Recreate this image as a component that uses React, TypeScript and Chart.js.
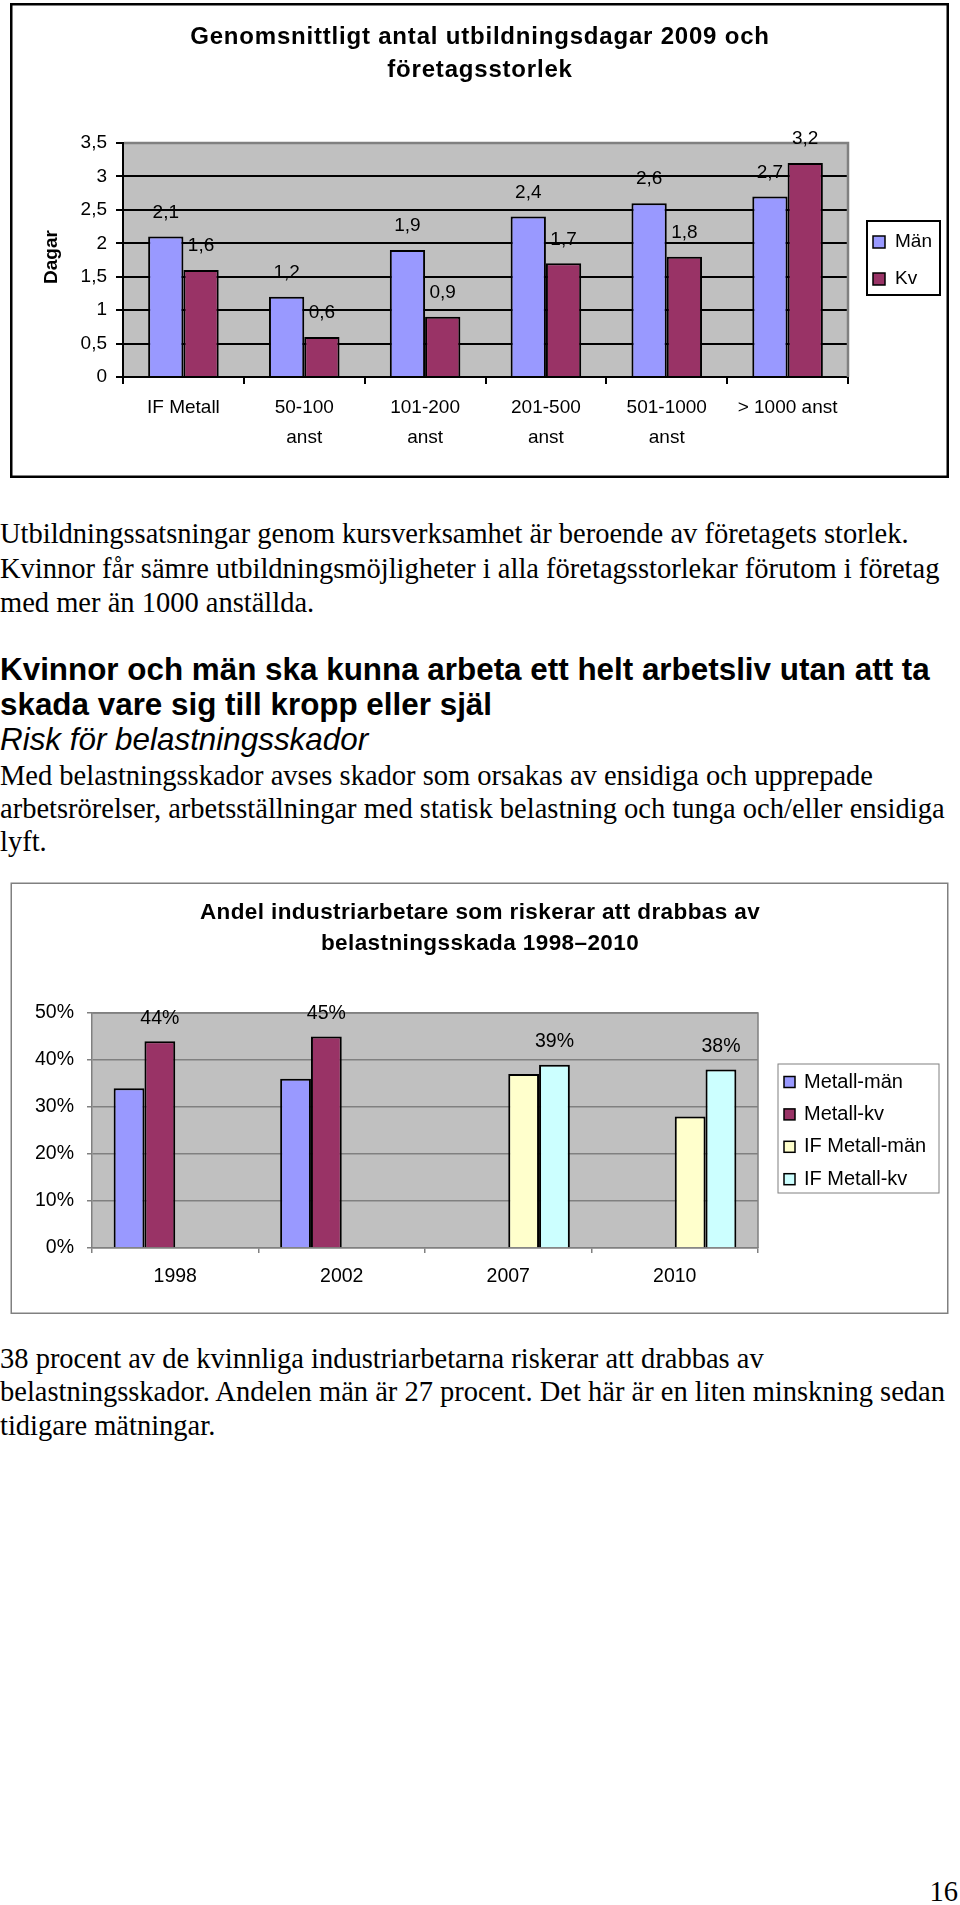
import React, { useEffect, useRef } from 'react';
import { Chart, registerables } from 'chart.js';

Chart.register(...registerables);

const SANS = '"Liberation Sans", Arial, Helvetica, sans-serif';
const SERIF = '"Liberation Serif", "Times New Roman", Times, serif';

// ---------- Chart 1 data ----------
const sizeCategories: (string | string[])[] = [
  'IF Metall',
  ['50-100', 'anst'],
  ['101-200', 'anst'],
  ['201-500', 'anst'],
  ['501-1000', 'anst'],
  '> 1000 anst',
];
const manDays = [2.1, 1.2, 1.9, 2.4, 2.6, 2.7];
const kvDays = [1.6, 0.6, 0.9, 1.7, 1.8, 3.2];
const chart1Series = ['Män', 'Kv'];
const chart1Colors = ['#9999FF', '#993366'];
const chart1Title = ['Genomsnittligt antal utbildningsdagar 2009 och', 'företagsstorlek'];
const chart1YTitle = 'Dagar';
const chart1YMax = 3.5;
const chart1YStep = 0.5;

// ---------- Chart 2 data ----------
const years = ['1998', '2002', '2007', '2010'];
const metallMan = [34, 36, null, null];
const metallKv = [44, 45, null, null];
const ifMetallMan = [null, null, 37, 28];
const ifMetallKv = [null, null, 39, 38];
const chart2Series = ['Metall-män', 'Metall-kv', 'IF Metall-män', 'IF Metall-kv'];
const chart2Colors = ['#9999FF', '#993366', '#FFFFCC', '#CCFFFF'];
const chart2Title = ['Andel industriarbetare som riskerar att drabbas av', 'belastningsskada 1998–2010'];
const chart2Labelled = [1, 3];
const chart2YMax = 50;
const chart2YStep = 10;

const fmtComma = (v: number) => String(v).replace('.', ',');
const fmtPct = (v: number) => `${v}%`;

function drawDataLabels(chart: any, idxs: number[], offset: number, fmt: (v: number) => string, size: number) {
  const ctx = chart.ctx;
  ctx.save();
  ctx.fillStyle = '#000';
  ctx.font = `${size}px ${SANS}`;
  ctx.textAlign = 'center';
  ctx.textBaseline = 'middle';
  idxs.forEach((di) => {
    const meta = chart.getDatasetMeta(di);
    const data = chart.data.datasets[di].data;
    meta.data.forEach((el: any, i: number) => {
      const v = data[i];
      if (v === null || v === undefined) return;
      ctx.fillText(fmt(v), el.x, el.y - offset);
    });
  });
  ctx.restore();
}

function drawLegend(
  ctx: any,
  box: { x: number; y: number; w: number; h: number },
  borderColor: string,
  borderWidth: number,
  items: string[],
  colors: string[],
  firstY: number,
  step: number,
  markX: number,
  markSize: number,
  textX: number,
  fontSize: number
) {
  ctx.save();
  ctx.fillStyle = '#fff';
  ctx.fillRect(box.x, box.y, box.w, box.h);
  ctx.strokeStyle = borderColor;
  ctx.lineWidth = borderWidth;
  ctx.strokeRect(box.x, box.y, box.w, box.h);
  ctx.font = `${fontSize}px ${SANS}`;
  ctx.textAlign = 'left';
  ctx.textBaseline = 'middle';
  items.forEach((label, i) => {
    const cy = firstY + i * step;
    ctx.fillStyle = colors[i];
    ctx.fillRect(markX, cy - markSize / 2, markSize, markSize);
    ctx.strokeStyle = '#000';
    ctx.lineWidth = 1.5;
    ctx.strokeRect(markX, cy - markSize / 2, markSize, markSize);
    ctx.fillStyle = '#000';
    ctx.fillText(label, textX, cy);
  });
  ctx.restore();
}

const chart1Deco = {
  id: 'chart1Deco',
  beforeDraw(chart: any) {
    const { ctx, chartArea: a } = chart;
    ctx.save();
    ctx.fillStyle = '#fff';
    ctx.fillRect(0, 0, chart.width, chart.height);
    ctx.strokeStyle = '#000';
    ctx.lineWidth = 2.5;
    ctx.strokeRect(11.25, 4.25, 936.5, 472.5);
    ctx.fillStyle = '#C0C0C0';
    ctx.fillRect(a.left, a.top, a.right - a.left, a.bottom - a.top);
    ctx.restore();
  },
  afterDatasetsDraw(chart: any) {
    const { ctx, chartArea: a } = chart;
    ctx.save();
    ctx.strokeStyle = '#808080';
    ctx.lineWidth = 2.5;
    ctx.beginPath();
    ctx.moveTo(a.left + 1, a.top);
    ctx.lineTo(a.right, a.top);
    ctx.lineTo(a.right, a.bottom);
    ctx.stroke();
    ctx.restore();
  },
  afterDraw(chart: any) {
    const ctx = chart.ctx;
    ctx.save();
    ctx.fillStyle = '#000';
    ctx.textAlign = 'center';
    ctx.textBaseline = 'middle';
    ctx.font = `bold 24px ${SANS}`;
    try { ctx.letterSpacing = '0.8px'; } catch (e) {}
    ctx.fillText(chart1Title[0], 480, 37);
    ctx.fillText(chart1Title[1], 480, 70);
    try { ctx.letterSpacing = '0px'; } catch (e) {}
    ctx.translate(52, 257);
    ctx.rotate(-Math.PI / 2);
    ctx.font = `bold 19px ${SANS}`;
    ctx.fillText(chart1YTitle, 0, 0);
    ctx.restore();
    drawLegend(ctx, { x: 867, y: 221, w: 73, h: 74 }, '#000', 2, chart1Series, chart1Colors, 242, 37, 873, 12, 895, 19);
    drawDataLabels(chart, [0, 1], 24, fmtComma, 19);
  },
};

const chart2Deco = {
  id: 'chart2Deco',
  beforeDraw(chart: any) {
    const { ctx, chartArea: a } = chart;
    ctx.save();
    ctx.fillStyle = '#fff';
    ctx.fillRect(0, 0, chart.width, chart.height);
    ctx.strokeStyle = '#808080';
    ctx.lineWidth = 1.5;
    ctx.strokeRect(11.25, 13.25, 936.5, 430);
    ctx.fillStyle = '#C0C0C0';
    ctx.fillRect(a.left, a.top, a.right - a.left, a.bottom - a.top);
    ctx.restore();
  },
  afterDatasetsDraw(chart: any) {
    const { ctx, chartArea: a } = chart;
    ctx.save();
    ctx.strokeStyle = '#808080';
    ctx.lineWidth = 1.5;
    ctx.beginPath();
    ctx.moveTo(a.left, a.top);
    ctx.lineTo(a.right, a.top);
    ctx.lineTo(a.right, a.bottom);
    ctx.stroke();
    ctx.restore();
  },
  afterDraw(chart: any) {
    const ctx = chart.ctx;
    ctx.save();
    ctx.fillStyle = '#000';
    ctx.textAlign = 'center';
    ctx.textBaseline = 'middle';
    ctx.font = `bold 22.5px ${SANS}`;
    try { ctx.letterSpacing = '0.4px'; } catch (e) {}
    ctx.fillText(chart2Title[0], 480, 43);
    ctx.fillText(chart2Title[1], 480, 74);
    try { ctx.letterSpacing = '0px'; } catch (e) {}
    ctx.restore();
    drawLegend(ctx, { x: 778, y: 194, w: 161, h: 129 }, '#808080', 1, chart2Series, chart2Colors, 212, 32.4, 784, 11, 804, 20);
    drawDataLabels(chart, chart2Labelled, 23, fmtPct, 19.5);
  },
};

export default function App() {
  const c1 = useRef<HTMLCanvasElement | null>(null);
  const c2 = useRef<HTMLCanvasElement | null>(null);

  useEffect(() => {
    Chart.defaults.font.family = SANS;
    const chartA = new Chart(c1.current as HTMLCanvasElement, {
      type: 'bar',
      data: {
        labels: sizeCategories as any,
        datasets: [
          { label: chart1Series[0], data: manDays, backgroundColor: chart1Colors[0], borderColor: '#000', borderWidth: 2 },
          { label: chart1Series[1], data: kvDays, backgroundColor: chart1Colors[1], borderColor: '#000', borderWidth: 2 },
        ],
      },
      options: {
        animation: false,
        responsive: false,
        events: [],
        datasets: { bar: { categoryPercentage: 0.584, barPercentage: 1 } },
        layout: { padding: { left: 0, right: 112, top: 143, bottom: 23 } },
        plugins: { legend: { display: false }, title: { display: false }, tooltip: { enabled: false } },
        scales: {
          x: {
            offset: true,
            grid: { offset: true, drawOnChartArea: false, drawTicks: true, tickLength: 7, color: '#000', lineWidth: 2 },
            border: { color: '#000', width: 2 },
            ticks: { color: '#000', font: { family: SANS, size: 19, lineHeight: 30 / 19 }, padding: 9, maxRotation: 0, autoSkip: false },
            afterFit: (s: any) => { s.height = 80; },
          },
          y: {
            min: 0,
            max: chart1YMax,
            ticks: { stepSize: chart1YStep, color: '#000', font: { family: SANS, size: 19 }, padding: 9, callback: (v: any) => fmtComma(v) },
            grid: { color: '#000', lineWidth: 2, tickLength: 7 },
            border: { color: '#000', width: 2 },
            afterFit: (s: any) => { s.width = 123; },
          },
        },
      } as any,
      plugins: [chart1Deco],
    });

    const chartB = new Chart(c2.current as HTMLCanvasElement, {
      type: 'bar',
      data: {
        labels: years,
        datasets: [
          { label: chart2Series[0], data: metallMan, backgroundColor: chart2Colors[0], borderColor: '#000', borderWidth: 2 },
          { label: chart2Series[1], data: metallKv, backgroundColor: chart2Colors[1], borderColor: '#000', borderWidth: 2 },
          { label: chart2Series[2], data: ifMetallMan, backgroundColor: chart2Colors[2], borderColor: '#000', borderWidth: 2 },
          { label: chart2Series[3], data: ifMetallKv, backgroundColor: chart2Colors[3], borderColor: '#000', borderWidth: 2 },
        ] as any,
      },
      options: {
        animation: false,
        responsive: false,
        events: [],
        datasets: { bar: { categoryPercentage: 0.74, barPercentage: 1 } },
        layout: { padding: { left: 0, right: 202, top: 143, bottom: 22 } },
        plugins: { legend: { display: false }, title: { display: false }, tooltip: { enabled: false } },
        scales: {
          x: {
            offset: true,
            grid: { offset: true, drawOnChartArea: false, drawTicks: true, tickLength: 5, color: '#808080', lineWidth: 1.5 },
            border: { color: '#808080', width: 1.5 },
            ticks: { color: '#000', font: { family: SANS, size: 19.5 }, padding: 12, maxRotation: 0, autoSkip: false },
            afterFit: (s: any) => { s.height = 50; },
          },
          y: {
            min: 0,
            max: chart2YMax,
            ticks: { stepSize: chart2YStep, color: '#000', font: { family: SANS, size: 19.5 }, padding: 13, callback: (v: any) => fmtPct(v) },
            grid: { color: '#808080', lineWidth: 1.5, tickLength: 5 },
            border: { color: '#808080', width: 1.5 },
            afterFit: (s: any) => { s.width = 92; },
          },
        },
      } as any,
      plugins: [chart2Deco],
    });

    return () => {
      chartA.destroy();
      chartB.destroy();
    };
  }, []);

  const abs = (top: number, extra: any = {}) => ({
    position: 'absolute' as const,
    left: 0,
    top,
    whiteSpace: 'nowrap' as const,
    color: '#000',
    margin: 0,
    ...extra,
  });

  return (
    <div style={{ position: 'absolute', left: 0, top: 0, width: 960, height: 1905, overflow: 'hidden', background: '#fff' }}>
      <canvas ref={c1} width={960} height={480} style={{ position: 'absolute', left: 0, top: 0, width: 960, height: 480 }} />

      <div style={abs(517, { font: `28.5px/34.5px ${SERIF}` })}>
        Utbildningssatsningar genom kursverksamhet är beroende av företagets storlek.
        <br />
        Kvinnor får sämre utbildningsmöjligheter i alla företagsstorlekar förutom i företag
        <br />
        med mer än 1000 anställda.
      </div>

      <div style={abs(651.6, { font: `bold 31.4px/35px ${SANS}` })}>
        Kvinnor och män ska kunna arbeta ett helt arbetsliv utan att ta
        <br />
        skada vare sig till kropp eller själ
        <br />
        <span style={{ fontWeight: 'normal', fontStyle: 'italic' }}>Risk för belastningsskador</span>
      </div>

      <div style={abs(759, { font: `28.5px/33px ${SERIF}` })}>
        Med belastningsskador avses skador som orsakas av ensidiga och upprepade
        <br />
        arbetsrörelser, arbetsställningar med statisk belastning och tunga och/eller ensidiga
        <br />
        lyft.
      </div>

      <canvas ref={c2} width={960} height={450} style={{ position: 'absolute', left: 0, top: 870, width: 960, height: 450 }} />

      <div style={abs(1341.6, { font: `28.5px/33.5px ${SERIF}` })}>
        38 procent av de kvinnliga industriarbetarna riskerar att drabbas av
        <br />
        belastningsskador. Andelen män är 27 procent. Det här är en liten minskning sedan
        <br />
        tidigare mätningar.
      </div>

      <div style={abs(1882.4, { left: 860, width: 98, textAlign: 'right', font: `28.5px/20px ${SERIF}` })}>16</div>
    </div>
  );
}
